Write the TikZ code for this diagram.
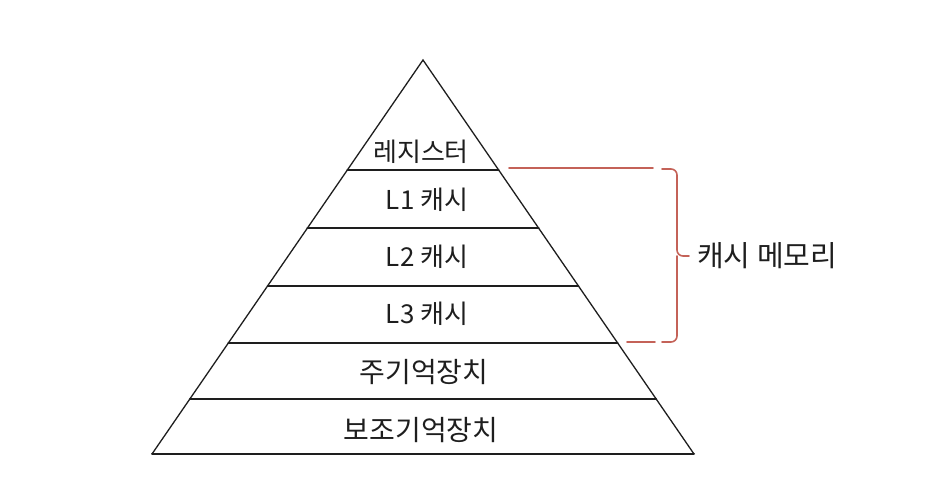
\documentclass[tikz,border=0pt]{standalone}
\usepackage{fontspec}
\setmainfont{Noto Sans CJK KR}
\usetikzlibrary{calc, positioning}
\definecolor{cachered}{RGB}{196,98,88}
\definecolor{inkblack}{RGB}{30,30,30}

\begin{document}
\begin{tikzpicture}[
        x=1pt, y=-1pt,
        % styles for the pyramid
        edge/.style={
            draw=inkblack,
            line width=1.3pt,
            line join=miter
        },
        band/.style={
            draw=inkblack,
            line width=2pt,
            line cap=round
        },
        layer/.style={
            text=inkblack,
            inner sep=0pt,
            font=\fontsize{26}{26}\selectfont
        },
        biglayer/.style={
            layer,
            font=\fontsize{28}{28}\selectfont
        },
        brace/.style={
            draw=cachered,
            line width=1.6pt,
            line cap=round,
            rounded corners=6pt
        }
    ]
    \useasboundingbox (0,0) rectangle (930,484);

    % --- 1. PYRAMID CORNERS ---
    \coordinate (apex) at (423,60);
    \coordinate (baseL) at (152,454);
    \coordinate (baseR) at (694,454);

    % band borders on the two slopes
    \coordinate (regL) at ($(apex)!0.2792!(baseL)$);
    \coordinate (regR) at ($(apex)!0.2792!(baseR)$);
    \coordinate (loneL) at ($(apex)!0.4264!(baseL)$);
    \coordinate (loneR) at ($(apex)!0.4264!(baseR)$);
    \coordinate (ltwoL) at ($(apex)!0.5736!(baseL)$);
    \coordinate (ltwoR) at ($(apex)!0.5736!(baseR)$);
    \coordinate (lthreeL) at ($(apex)!0.7183!(baseL)$);
    \coordinate (lthreeR) at ($(apex)!0.7183!(baseR)$);
    \coordinate (mainL) at ($(apex)!0.8604!(baseL)$);
    \coordinate (mainR) at ($(apex)!0.8604!(baseR)$);

    % --- 2. LAYER LABELS ---
    \node[layer] (reg) at (421,152) {레지스터};
    \node[layer] (lone) at (427,200) {L1 캐시};
    \node[layer] (ltwo) at (427,257) {L2 캐시};
    \node[layer] (lthree) at (427,314) {L3 캐시};
    \node[biglayer] (mainmem) at (424,372) {주기억장치};
    \node[biglayer] (auxmem) at (421,430) {보조기억장치};

    % --- 3. PYRAMID LINES ---
    \draw[edge] (baseL) -- (apex) -- (baseR);
    \draw[band] (baseL) -- (baseR);
    \draw[band] (regL) -- (regR);
    \draw[band] (loneL) -- (loneR);
    \draw[band] (ltwoL) -- (ltwoR);
    \draw[band] (lthreeL) -- (lthreeR);
    \draw[band] (mainL) -- (mainR);

    % --- 4. CACHE BRACE ---
    \coordinate (capTop) at (509,168);
    \coordinate (capTopEnd) at (653,168);
    \coordinate (capBot) at (627,342);
    \coordinate (capBotEnd) at (655,342);
    \coordinate (braceTop) at (662,169);
    \coordinate (braceBot) at (662,342);
    \coordinate (braceTip) at (689,256);
    \node[text=inkblack, inner sep=0pt, anchor=west,
          font=\fontsize{29}{29}\selectfont] (cache) at (697,256) {캐시 메모리};

    \draw[brace] (capTop) -- (capTopEnd);
    \draw[brace] (capBot) -- (capBotEnd);
    \draw[brace] (braceTop) -- (677,169) -- (677,256) -- (braceTip);
    \draw[brace] (braceBot) -- (677,342) -- (677,256);
\end{tikzpicture}
\end{document}
